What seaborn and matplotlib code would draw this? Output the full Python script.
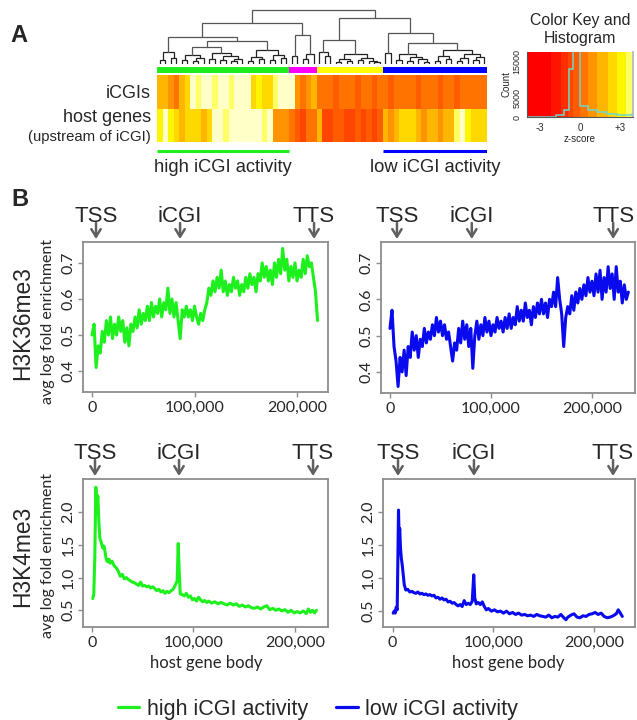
import numpy as np
import pandas as pd
import matplotlib
matplotlib.use("Agg")
import matplotlib.pyplot as plt
from matplotlib.colors import ListedColormap, BoundaryNorm
from matplotlib.lines import Line2D
import seaborn as sns

# ---------------------------------------------------------------- data
# heatmap (z-scores), one value per column of the clustered heatmap
icgi_z = [1.5, 1.8, 0.7, 0.3, 1.5, 2.4, 3.95, 3.6, 3.95, 3.95,
          3.6, 3.95, 3.95, 3.6, 3.95, 3.95, 3.95, 2.4, 3.0, 2.2,
          2.6, 3.6, 3.95, 3.95, 3.95, 0.7, 0.2, 1.0, 1.4, 0.1,
          0.1, 0.2, -0.2, 0.1, 0.3, 0.1, -0.2, 0.2, 0.1, -0.1,
          0.2, 0.1, -0.2, 0.3, 0.1, 0.1, 0.2, -0.2, 0.1, 0.2,
          0.1, -0.1, 0.2, 0.1, -0.2, 0.3, 0.1, 0.1, 0.2, 0.1]
host_z = [3.2, 3.95, 2.9, 2.2, 2.0, 2.3, 2.1, 2.4, 2.0, 2.6,
          3.95, 3.95, 3.7, 3.95, 3.95, 3.95, 3.95, 3.95, 3.95, 3.7,
          3.95, 1.0, 0.7, 1.2, 0.2, -0.3, -0.6, 0.1, 0.5, 1.3,
          -0.6, -0.8, -0.4, -0.3, -0.6, -0.7, -0.4, -0.6, -0.4, -0.7,
          -0.3, 1.4, 1.2, 1.6, 2.3, 2.2, 2.4, 1.5, 1.2, 1.6,
          1.3, 1.1, 1.5, 1.4, 3.7, 3.95, 3.4, 2.3, 2.5, 2.2]
heat_rows = ["iCGIs", "host genes"]
cluster_sizes = [24, 5, 12, 19]
cluster_colors = ["#1EEE1E", "#FF00FF", "#FFFF00", "#0000FF"]

# dendrogram: [height, left, right]; leaves are column indices
dendro_tree = [54,
    [41,
        [27,
            [12, [4, 0, 1], [6, 2, 3]],
            [23,
                [17, [9, [4, 4, 5], [6, [3, 6, 7], 8]],
                     [11, [5, 9, 10], [8, [4, 11, 12], [5, [3, 13, 14], 15]]]],
                [14, [7, [3, 16, 17], [5, 18, 19]], [9, [4, 20, 21], [6, 22, 23]]]]],
        [29, [8, 24, 25], [10, [5, 26, 27], 28]]],
    [46,
        [24, [12, 29, [8, 30, 31]],
             [10, [5, [2, 32, 33], [3, 34, 35]], [6, [4, 36, 37], [3, 38, [2, 39, 40]]]]],
        [31,
            [11, 41, 42],
            [21,
                [10, [4, 43, 44], [7, [3, 45, 46], [5, 47, [2, 48, 49]]]],
                [14, [8, [3, 50, 51], [5, 52, 53]],
                     [10, [6, [3, 54, 55], 56], [7, [4, 57, 58], 59]]]]]]]

# colour key
key_bounds = [-4, -2.2, -1.45, -0.95, -0.5, 0, 0.6, 1.3, 2.1, 2.8, 3.45, 3.9, 4.0]
key_colors = ["#FF0000", "#FF1400", "#FF2E00", "#FF4600", "#FF5C00", "#FF7400",
              "#FF9400", "#FFB600", "#FFD800", "#FFF500", "#FFFF66", "#FFFFC8"]
hist_edges = [-4, -1.8, -1.2, -0.85, -0.5, 0, 0.6, 1.3, 2.0, 2.8, 3.9, 4]
hist_counts = [100, 450, 2000, 13000, 25000, 2900, 2000, 1400, 900, 500, 900]

# H3K36me3 profiles (x in kb along host gene body)
k36_high_x = list(range(0, 222, 2))
k36_high_y = [0.50, 0.53, 0.41, 0.47, 0.45, 0.51, 0.48, 0.54, 0.50, 0.55,
              0.49, 0.53, 0.50, 0.55, 0.51, 0.54, 0.48, 0.52, 0.47, 0.53,
              0.51, 0.55, 0.52, 0.57, 0.53, 0.56, 0.54, 0.58, 0.54, 0.59,
              0.55, 0.58, 0.56, 0.60, 0.55, 0.59, 0.57, 0.63, 0.56, 0.60,
              0.55, 0.59, 0.54, 0.49, 0.57, 0.55, 0.58, 0.55, 0.57, 0.54,
              0.58, 0.55, 0.53, 0.56, 0.54, 0.57, 0.59, 0.63, 0.61, 0.65,
              0.62, 0.66, 0.63, 0.68, 0.62, 0.65, 0.61, 0.64, 0.62, 0.66,
              0.63, 0.65, 0.61, 0.64, 0.62, 0.66, 0.63, 0.67, 0.64, 0.66,
              0.62, 0.67, 0.65, 0.70, 0.66, 0.69, 0.65, 0.68, 0.64, 0.70,
              0.66, 0.71, 0.67, 0.74, 0.68, 0.71, 0.65, 0.69, 0.66, 0.70,
              0.65, 0.68, 0.66, 0.71, 0.67, 0.72, 0.69, 0.70, 0.66, 0.62,
              0.54]
k36_low_x = list(range(0, 238, 2))
k36_low_y = [0.52, 0.57, 0.47, 0.43, 0.36, 0.44, 0.40, 0.46, 0.39, 0.47,
             0.44, 0.51, 0.46, 0.50, 0.44, 0.49, 0.47, 0.52, 0.48, 0.51,
             0.49, 0.53, 0.50, 0.55, 0.51, 0.54, 0.50, 0.53, 0.49, 0.51,
             0.47, 0.43, 0.48, 0.46, 0.52, 0.48, 0.54, 0.49, 0.53, 0.47,
             0.52, 0.41, 0.50, 0.54, 0.49, 0.53, 0.50, 0.55, 0.51, 0.54,
             0.50, 0.53, 0.51, 0.55, 0.52, 0.54, 0.51, 0.55, 0.52, 0.56,
             0.52, 0.55, 0.53, 0.58, 0.54, 0.57, 0.54, 0.59, 0.55, 0.57,
             0.53, 0.58, 0.55, 0.59, 0.56, 0.60, 0.56, 0.59, 0.55, 0.60,
             0.58, 0.62, 0.58, 0.66, 0.60, 0.56, 0.47, 0.55, 0.58, 0.56,
             0.61, 0.57, 0.62, 0.59, 0.63, 0.60, 0.64, 0.61, 0.66, 0.62,
             0.65, 0.61, 0.67, 0.62, 0.68, 0.60, 0.66, 0.62, 0.69, 0.63,
             0.67, 0.60, 0.69, 0.62, 0.65, 0.59, 0.64, 0.60, 0.62]

# H3K4me3 profiles
k4_high_x = [1, 2, 3, 4, 5, 6, 7, 8, 9, 10, 11, 12, 13, 14, 15, 16, 17, 18, 20, 22,
             24, 26, 28, 30, 32, 34, 36, 38, 40, 42, 44, 46, 48, 50, 52, 54, 56, 58,
             60, 62, 64, 66, 68, 70, 72, 74, 76, 78, 80, 82, 84, 85, 86, 87, 89, 91,
             93, 95, 97, 99, 101, 103, 105, 107, 109, 111, 113, 115, 118, 121, 124,
             127, 130, 133, 136, 139, 142, 145, 148, 151, 154, 157, 160, 163, 166,
             169, 172, 175, 178, 181, 184, 187, 190, 193, 196, 199, 202, 205, 208,
             211, 213, 215, 217, 219, 221]
k4_high_y = [0.68, 0.75, 1.30, 2.38, 2.10, 2.25, 1.85, 1.60, 1.55, 1.50, 1.45, 1.48,
             1.40, 1.30, 1.25, 1.24, 1.28, 1.22, 1.25, 1.18, 1.15, 1.10, 1.02, 1.05,
             0.98, 1.00, 0.97, 0.95, 0.93, 0.92, 0.90, 0.88, 0.93, 0.87, 0.88, 0.86,
             0.87, 0.84, 0.86, 0.83, 0.80, 0.82, 0.78, 0.80, 0.76, 0.79, 0.77, 0.80,
             0.82, 0.88, 0.95, 1.52, 1.10, 0.75, 0.74, 0.72, 0.76, 0.70, 0.72, 0.66,
             0.68, 0.64, 0.70, 0.66, 0.63, 0.65, 0.62, 0.64, 0.61, 0.63, 0.60, 0.62,
             0.60, 0.58, 0.61, 0.58, 0.60, 0.56, 0.58, 0.55, 0.57, 0.54, 0.53, 0.55,
             0.52, 0.55, 0.57, 0.51, 0.53, 0.50, 0.52, 0.49, 0.51, 0.47, 0.50, 0.46,
             0.48, 0.46, 0.49, 0.45, 0.52, 0.47, 0.50, 0.46, 0.50]
k4_low_x = [0.5, 1.5, 2.5, 3.5, 4.5, 5.0, 5.8, 6.4, 7.0, 7.8, 8.6, 9.5, 10.5, 11.5,
            13, 15, 17, 19, 21, 23, 25, 27, 29, 31, 33, 35, 37, 39, 41, 43, 45, 47,
            49, 51, 53, 55, 57, 59, 61, 63, 65, 67, 69, 71, 73, 75, 77, 79, 80.5, 81.5,
            83, 85, 87, 89, 91, 93, 95, 98, 101, 104, 107, 110, 113, 116, 119, 122,
            125, 128, 131, 134, 137, 140, 143, 146, 149, 152, 155, 158, 161, 164, 167,
            170, 172, 174, 177, 180, 183, 186, 189, 192, 195, 198, 201, 204, 207, 210,
            213, 216, 219, 222, 224, 226, 228]
k4_low_y = [0.47, 0.50, 0.47, 0.56, 0.52, 1.10, 2.03, 1.60, 1.75, 1.45, 1.30, 1.20,
            1.05, 0.90, 0.82, 0.83, 0.79, 0.80, 0.78, 0.77, 0.79, 0.76, 0.77, 0.75,
            0.76, 0.74, 0.75, 0.73, 0.74, 0.70, 0.71, 0.68, 0.70, 0.67, 0.68, 0.64,
            0.65, 0.62, 0.63, 0.60, 0.58, 0.60, 0.57, 0.66, 0.60, 0.62, 0.60, 0.65,
            1.05, 0.70, 0.61, 0.63, 0.60, 0.64, 0.57, 0.52, 0.54, 0.50, 0.52, 0.49,
            0.50, 0.47, 0.50, 0.46, 0.48, 0.45, 0.47, 0.44, 0.45, 0.43, 0.44, 0.42,
            0.45, 0.43, 0.42, 0.41, 0.44, 0.40, 0.42, 0.41, 0.45, 0.40, 0.37, 0.41,
            0.44, 0.46, 0.41, 0.40, 0.43, 0.42, 0.45, 0.46, 0.48, 0.45, 0.47, 0.42,
            0.40, 0.41, 0.43, 0.46, 0.52, 0.47, 0.42]

# landmark positions (kb) per panel: TSS, iCGI, TTS
landmark_names = ["TSS", "iCGI", "TTS"]
lm_k36_high = [3.9, 85.9, 216.6]
lm_k36_low = [6.9, 81.0, 221.0]
lm_k4_high = [3.2, 85.8, 217.6]
lm_k4_low = [5.3, 80.7, 218.8]

xtick_vals = [0, 100000, 200000]
xtick_labels = ["0", "100,000", "200,000"]
k36_yticks = [0.4, 0.5, 0.6, 0.7]
k4_yticks = [0.5, 1.0, 1.5, 2.0]

series_colors = {"high": "#1EF01E", "low": "#0A0AEE"}
legend_labels = ["high iCGI activity", "low iCGI activity"]

# ---------------------------------------------------------------- figure
sns.set_theme(style="white")
plt.rcParams["font.family"] = ["Liberation Sans", "DejaVu Sans"]
plt.rcParams["axes.edgecolor"] = "#8c8c8c"
plt.rcParams["axes.linewidth"] = 1.3

W, H = 637, 720
fig = plt.figure(figsize=(W / 100, H / 100), dpi=100)


def ax_px(l, t, r, b):
    return fig.add_axes([l / W, 1 - b / H, (r - l) / W, (b - t) / H])


def fx(x):
    return x / W


def fy(y):
    return 1 - y / H


ncol = len(icgi_z)

# --- dendrogram
axd = ax_px(157, 8, 487, 64)


def draw_node(node):
    if isinstance(node, int):
        return node + 0.5, 0.0
    h, left, right = node
    xl, hl = draw_node(left)
    xr, hr = draw_node(right)
    shade = "#222222" if h < 15 else "#555555"
    axd.plot([xl, xl, xr, xr], [hl, h, h, hr], color=shade, lw=0.9,
             solid_joinstyle="miter")
    return (xl + xr) / 2, h


draw_node(dendro_tree)
axd.set_xlim(0, ncol)
axd.set_ylim(0, 56)
axd.axis("off")

# --- cluster colour bar
axc = ax_px(157, 67, 487, 73)
cluster_id = np.repeat(np.arange(len(cluster_sizes)), cluster_sizes)[None, :]
sns.heatmap(cluster_id, ax=axc, cmap=ListedColormap(cluster_colors), cbar=False,
            xticklabels=False, yticklabels=False, vmin=-0.5, vmax=len(cluster_sizes) - 0.5)

# --- heatmap
key_cmap = ListedColormap(key_colors)
key_norm = BoundaryNorm(key_bounds, key_cmap.N)
axh = ax_px(157, 75, 487, 142)
heat_df = pd.DataFrame([icgi_z, host_z], index=heat_rows)
sns.heatmap(heat_df, ax=axh, cmap=key_cmap, norm=key_norm, cbar=False,
            xticklabels=False, yticklabels=False)

fig.text(fx(151), fy(93), "iCGIs", ha="right", va="center", fontsize=13)
fig.text(fx(151), fy(118), "host genes", ha="right", va="center", fontsize=13)
fig.text(fx(151), fy(137), "(upstream of iCGI)", ha="right", va="center", fontsize=10.7)

# underline bars for high / low activity groups
axu = ax_px(157, 146, 487, 156)
cum = np.concatenate([[0], np.cumsum(cluster_sizes)])
axu.plot([cum[0], cum[1]], [0.5, 0.5], color=cluster_colors[0], lw=2.2, solid_capstyle="butt")
axu.plot([cum[3], cum[4]], [0.5, 0.5], color=cluster_colors[3], lw=2.2, solid_capstyle="butt")
axu.set_xlim(0, ncol)
axu.set_ylim(0, 1)
axu.axis("off")
fig.text(fx(157 + (cum[0] + cum[1]) / 2 * 330 / ncol), fy(168), legend_labels[0],
         ha="center", va="center", fontsize=13.2)
fig.text(fx(157 + (cum[3] + cum[4]) / 2 * 330 / ncol), fy(168), legend_labels[1],
         ha="center", va="center", fontsize=13.2)

# --- colour key
axk = ax_px(527, 52, 633, 117)
axk.imshow(np.linspace(-4, 4, 400)[None, :], cmap=key_cmap, norm=key_norm,
           extent=[-4, 4, 0, 17500], aspect="auto", interpolation="nearest")
axk.stairs(hist_counts, hist_edges, color="#6ED8CC", lw=1.1)
axk.set_xlim(-4, 4)
axk.set_ylim(0, 17500)
axk.set_xticks([-3, 0, 3])
axk.set_xticklabels(["-3", "0", "+3"], fontsize=7)
axk.set_yticks([0, 5000, 15000])
axk.set_yticklabels(["0", "5000", "15000"], fontsize=6.5, rotation=90, va="center")
axk.set_xlabel("z-score", fontsize=7, labelpad=1)
axk.set_ylabel("Count", fontsize=7, labelpad=1)
axk.tick_params(length=2.5, width=0.8, pad=1.5, color="#555555")
axk.spines["top"].set_visible(False)
axk.spines["right"].set_color("#bbbbbb")
for side in ["left", "bottom"]:
    axk.spines[side].set_color("#555555")
    axk.spines[side].set_linewidth(0.8)
fig.text(fx(580), fy(20), "Color Key and", ha="center", va="center", fontsize=11.4)
fig.text(fx(580), fy(38), "Histogram", ha="center", va="center", fontsize=11.4)

# --- panel letters
fig.text(fx(10), fy(35), "A", fontsize=17, fontweight="bold", va="center", ha="left")
fig.text(fx(11), fy(199), "B", fontsize=17, fontweight="bold", va="center", ha="left")

# --- profile panels
panels = [
    ((83, 242, 328, 392), k36_high_x, k36_high_y, "high", lm_k36_high, (-8.8, 230.2), (0.342, 0.758), k36_yticks),
    ((381, 242, 635, 393), k36_low_x, k36_low_y, "low", lm_k36_low, (-8.9, 242.6), (0.342, 0.758), k36_yticks),
    ((83, 479, 328, 627), k4_high_x, k4_high_y, "high", lm_k4_high, (-8.6, 232.3), (0.245, 2.505), k4_yticks),
    ((383, 479, 635, 627), k4_low_x, k4_low_y, "low", lm_k4_low, (-9.6, 240.6), (0.26, 2.5), k4_yticks),
]

for box, xs, ys, grp, lms, xl, yl, yt in panels:
    ax = ax_px(*box)
    df = pd.DataFrame({"pos": np.array(xs) * 1000.0, "val": ys})
    sns.lineplot(data=df, x="pos", y="val", ax=ax, color=series_colors[grp], lw=2.2,
                 estimator=None, sort=False)
    ax.set_xlim(xl[0] * 1000, xl[1] * 1000)
    ax.set_ylim(*yl)
    ax.set_xlabel("")
    ax.set_ylabel("")
    ax.set_xticks(xtick_vals)
    ax.set_xticklabels(xtick_labels, fontsize=11.5, family="Lato")
    ax.set_yticks(yt)
    ax.set_yticklabels([f"{v:.1f}" for v in yt], fontsize=11.5, family="Lato",
                       rotation=90, va="center")
    ax.tick_params(axis="both", direction="out", length=3.5, width=1, color="#8c8c8c",
                   bottom=True, left=True, pad=2)
    ax.tick_params(axis="x", pad=3)
    for sp in ax.spines.values():
        sp.set_color("#8c8c8c")
        sp.set_linewidth(1.3)
    hpx = box[3] - box[1]
    for name, lx in zip(landmark_names, lms):
        ax.annotate("", xy=(lx * 1000, 1 + 3 / hpx), xytext=(lx * 1000, 1 + 19 / hpx),
                    xycoords=("data", "axes fraction"), textcoords=("data", "axes fraction"),
                    arrowprops=dict(arrowstyle="->,head_length=0.45,head_width=0.28",
                                    color="#606060", lw=1.8, shrinkA=0, shrinkB=0),
                    annotation_clip=False)
        ax.text(lx * 1000, 1 + 20 / hpx, name, transform=ax.get_xaxis_transform(),
                ha="center", va="baseline", fontsize=16)

# row labels
fig.text(fx(23), fy(323), "H3K36me3", rotation=90, ha="center", va="center", fontsize=16.4)
fig.text(fx(48), fy(322), "avg log fold enrichment", rotation=90, ha="center", va="center",
         fontsize=11.5, family="Lato")
fig.text(fx(23), fy(556), "H3K4me3", rotation=90, ha="center", va="center", fontsize=16.4)
fig.text(fx(48), fy(556), "avg log fold enrichment", rotation=90, ha="center", va="center",
         fontsize=11.5, family="Lato")
fig.text(fx(206), fy(663), "host gene body", ha="center", va="center", fontsize=12, family="Lato")
fig.text(fx(508), fy(663), "host gene body", ha="center", va="center", fontsize=12, family="Lato")

# legend
handles = [Line2D([], [], color=series_colors["high"], lw=2.3),
           Line2D([], [], color=series_colors["low"], lw=2.3)]
fig.legend(handles, legend_labels, loc="center", bbox_to_anchor=(fx(318), fy(709)),
           ncol=2, frameon=False, fontsize=15.5, handlelength=1.0, handletextpad=0.35,
           columnspacing=1.3, borderaxespad=0, borderpad=0)

fig.savefig("out.png", dpi=100)
